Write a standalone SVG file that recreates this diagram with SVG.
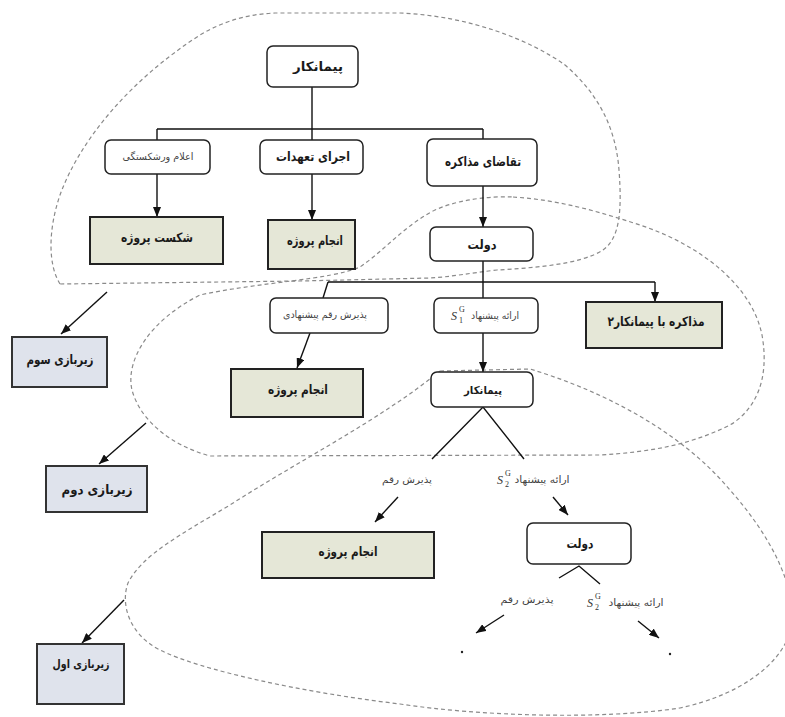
<svg xmlns="http://www.w3.org/2000/svg" width="785" height="717" viewBox="0 0 785 717">
<defs>
<style>
.bg{fill:#ffffff}
.cloud{fill:none;stroke:#8a8a8a;stroke-width:1.2;stroke-dasharray:4 3}
.box{fill:#ffffff;stroke:#222;stroke-width:1.5}
.res{fill:#e5e7d7;stroke:#222;stroke-width:2}
.sub{fill:#dfe3ec;stroke:#333;stroke-width:2}
.e{fill:none;stroke:#111;stroke-width:1.4}
.ea{fill:none;stroke:#111;stroke-width:1.4;marker-end:url(#ah)}
.b{font-family:"DejaVu Sans",sans-serif;font-weight:bold;font-size:13px;fill:#1a1a1a;text-anchor:middle}
.l{font-family:"DejaVu Sans",sans-serif;font-size:10px;fill:#444;text-anchor:middle}
.s{font-family:"Liberation Serif",serif;font-style:italic;font-size:12px;fill:#333}
.ss{font-family:"Liberation Serif",serif;font-size:8px;fill:#333}
</style>
<marker id="ah" viewBox="0 0 10 8" markerWidth="10" markerHeight="8" refX="10" refY="4" orient="auto" markerUnits="userSpaceOnUse">
<path d="M0,0 L10,4 L0,8 z" fill="#111"/>
</marker>
</defs>
<rect class="bg" x="0" y="0" width="785" height="717"/>

<g id="clouds">
<path class="cloud" d="M60,284 C48,265 48,230 60,195 C80,140 130,80 200,35 C225,20 250,14 275,13 L400,13 C470,16 530,40 565,65 C600,95 616,130 619,170 C622,210 620,238 603,250 C580,265 530,268 497,270 C470,273 450,277 430,278 L300,281 Z"/>
<path class="cloud" d="M513,197 C560,200 600,212 640,225 C700,245 752,285 762,335 C770,380 755,410 730,425 C690,445 650,452 600,455 L210,456 C170,445 140,420 132,390 C125,360 150,320 200,295 C260,282 330,280 360,267 C385,250 405,225 435,210 C460,199 490,196 513,197 Z"/>
<path class="cloud" d="M440,371 L530,369 C600,390 680,430 730,490 C770,535 800,590 790,632 C780,665 740,695 680,708 C600,720 480,716 400,704 C300,692 200,670 160,650 C130,635 120,605 128,583 C142,555 180,535 230,505 C300,460 380,420 440,371 Z"/>
</g>

<g id="connectors">
<path class="e" d="M312,87 V129 M157,129 H483 M157,129 V140 M312,129 V140 M483,129 V139"/>
<path class="ea" d="M157,174 V217"/>
<path class="ea" d="M312,174 V220"/>
<path class="ea" d="M483,186 V227"/>
<path class="e" d="M483,261 V298 M328,282 H655 M328,282 L323,298"/>
<path class="ea" d="M655,282 V302"/>
<path class="ea" d="M310,333 L297,368"/>
<path class="ea" d="M483,333 V372"/>
<path class="e" d="M432,459 L483,407 L524,459"/>
<path class="ea" d="M398,497 L375,522"/>
<path class="ea" d="M553,497 L568,515"/>
<path class="e" d="M559,578 L579,566 L600,584"/>
<path class="ea" d="M504,615 L476,633"/>
<path class="ea" d="M638,621 L659,638"/>
<path class="ea" d="M107,292 L61,334"/>
<path class="ea" d="M146,423 L99,464"/>
<path class="ea" d="M124,600 L82,643"/>
</g>

<g id="n-contractor1"><rect class="box" x="267" y="46" width="91" height="41" rx="6"/><text class="b" x="318" y="71" textLength="50" lengthAdjust="spacingAndGlyphs">پیمانکار</text></g>
<g id="n-bankrupt"><rect class="box" x="105" y="140" width="105" height="34" rx="6"/><text class="l" x="158" y="160" textLength="71" lengthAdjust="spacingAndGlyphs">اعلام ورشکستگی</text></g>
<g id="n-fulfil"><rect class="box" x="260" y="140" width="103" height="34" rx="6"/><text class="b" x="313" y="161" textLength="74" lengthAdjust="spacingAndGlyphs">اجرای تعهدات</text></g>
<g id="n-negreq"><rect class="box" x="427" y="139" width="110" height="47" rx="6"/><text class="b" x="483" y="166" textLength="76" lengthAdjust="spacingAndGlyphs">تقاضای مذاکره</text></g>
<g id="n-fail"><rect class="res" x="90" y="217" width="133" height="47"/><text class="b" x="157" y="242" textLength="72" lengthAdjust="spacingAndGlyphs">شکست پروژه</text></g>
<g id="n-done1"><rect class="res" x="268" y="220" width="87" height="49"/><text class="b" x="315" y="245" textLength="56" lengthAdjust="spacingAndGlyphs">انجام پروژه</text></g>
<g id="n-gov1"><rect class="box" x="430" y="227" width="103" height="34" rx="6"/><text class="b" x="482" y="249" textLength="29" lengthAdjust="spacingAndGlyphs">دولت</text></g>
<g id="n-accept1"><rect class="box" x="270" y="298" width="118" height="35" rx="6"/><text class="l" x="325" y="318" textLength="84" lengthAdjust="spacingAndGlyphs">پذیرش رقم پیشنهادی</text></g>
<g id="n-offer1"><rect class="box" x="434" y="298" width="104" height="35" rx="6"/><text class="l" x="495" y="319" textLength="48" lengthAdjust="spacingAndGlyphs">ارائه پیشنهاد</text><text class="s" x="451" y="320">S</text><text class="ss" x="459" y="312">G</text><text class="ss" x="459" y="323">1</text></g>
<g id="n-neg2"><rect class="res" x="586" y="302" width="136" height="46"/><text class="b" x="656" y="326" textLength="97" lengthAdjust="spacingAndGlyphs">مذاکره با پیمانکار۲</text></g>
<g id="n-done2"><rect class="res" x="231" y="369" width="132" height="48"/><text class="b" x="298" y="394" textLength="60" lengthAdjust="spacingAndGlyphs">انجام پروژه</text></g>
<g id="n-contractor2"><rect class="box" x="431" y="372" width="102" height="35" rx="6"/><text class="b" x="483" y="394" style="font-size:11px" textLength="38" lengthAdjust="spacingAndGlyphs">پیمانکار</text></g>
<g id="n-accept2"><text class="l" x="407" y="483" textLength="50" lengthAdjust="spacingAndGlyphs">پذیرش رقم</text></g>
<g id="n-offer2"><text class="l" x="542" y="483" textLength="55" lengthAdjust="spacingAndGlyphs">ارائه پیشنهاد</text><text class="s" x="497" y="484">S</text><text class="ss" x="505" y="476">G</text><text class="ss" x="505" y="487">2</text></g>
<g id="n-done3"><rect class="res" x="262" y="532" width="172" height="46"/><text class="b" x="348" y="556" textLength="59" lengthAdjust="spacingAndGlyphs">انجام پروژه</text></g>
<g id="n-gov2"><rect class="box" x="527" y="523" width="104" height="41" rx="6"/><text class="b" x="580" y="548" textLength="27" lengthAdjust="spacingAndGlyphs">دولت</text></g>
<g id="n-accept3"><text class="l" x="527" y="603" textLength="53" lengthAdjust="spacingAndGlyphs">پذیرش رقم</text></g>
<g id="n-offer3"><text class="l" x="636" y="606" textLength="55" lengthAdjust="spacingAndGlyphs">ارائه پیشنهاد</text><text class="s" x="587" y="607">S</text><text class="ss" x="595" y="599">G</text><text class="ss" x="595" y="610">2</text></g>
<g id="n-dot1"><circle cx="462" cy="652" r="1.2" fill="#222"/></g>
<g id="n-dot2"><circle cx="670" cy="654" r="1.2" fill="#222"/></g>
<g id="n-sub3"><rect class="sub" x="12" y="337" width="95" height="50"/><text class="b" x="60" y="364" textLength="67" lengthAdjust="spacingAndGlyphs">زیربازی سوم</text></g>
<g id="n-sub2"><rect class="sub" x="46" y="466" width="101" height="46"/><text class="b" x="97" y="494" textLength="71" lengthAdjust="spacingAndGlyphs">زیربازی دوم</text></g>
<g id="n-sub1"><rect class="sub" x="37" y="644" width="87" height="60"/><text class="b" x="81" y="668" style="font-size:12px" textLength="57" lengthAdjust="spacingAndGlyphs">زیربازی اول</text></g>
</svg>
